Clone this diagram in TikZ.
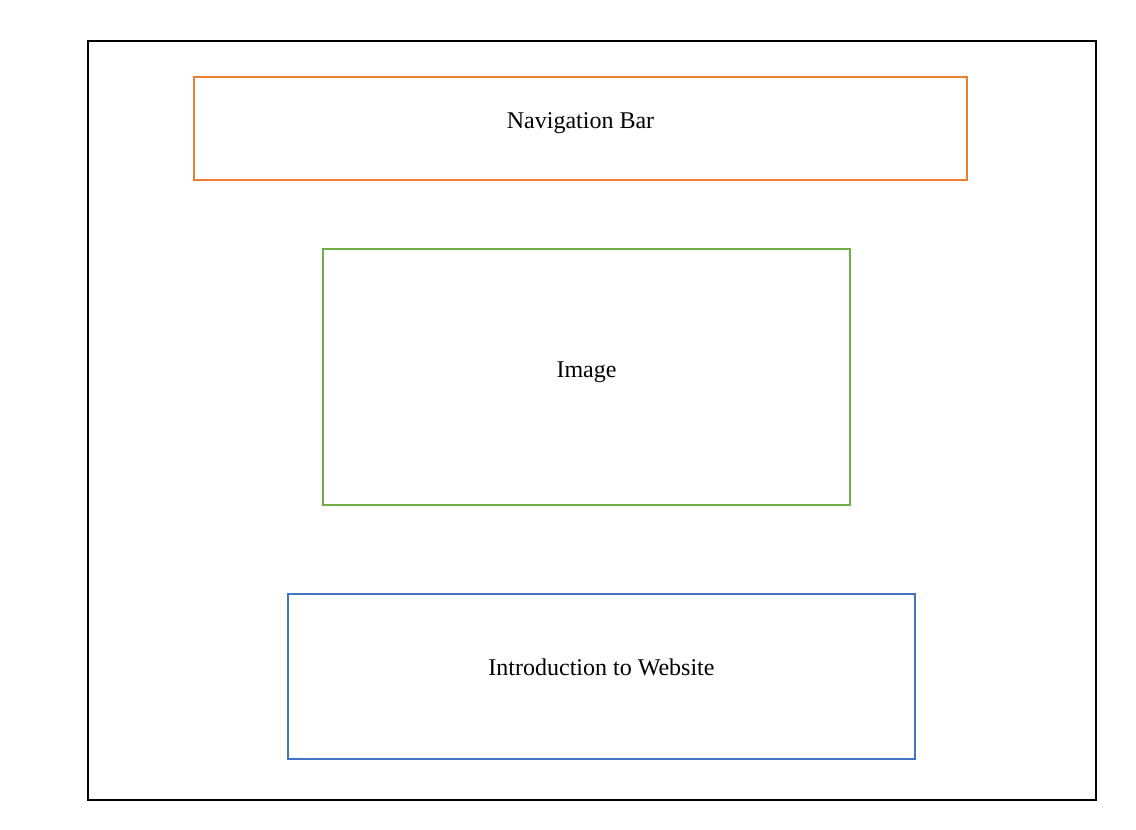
\documentclass[tikz,border=0pt]{standalone}
\usepackage{fontspec}
\setmainfont{Liberation Serif}
\usepackage{tikz}
\usetikzlibrary{positioning}
\definecolor{navorange}{HTML}{ED7D31}
\definecolor{imggreen}{HTML}{70AD47}
\definecolor{introblue}{HTML}{4472C4}
\tikzset{frame/.style={draw=black,line width=1pt,inner sep=0pt},panel/.style={line width=.75pt,inner sep=0pt},caption/.style={font=\fontsize{12}{14}\selectfont,text=black,inner sep=0pt}}

\begin{document}
\begin{tikzpicture}[x=0.5pt,y=-0.5pt]
\useasboundingbox (0,0) rectangle (1136,830);
\node[frame,minimum width=504pt,minimum height=379.5pt] (page) at (592,420.5) {};
\node[panel,draw=navorange,minimum width=386.5pt,minimum height=51.5pt] (nav) at (580.5,128.5) {};
\node[panel,draw=imggreen,minimum width=263.5pt,minimum height=128pt] (img) at (586.5,377) {};
\node[panel,draw=introblue,minimum width=313.5pt,minimum height=82.5pt] (intro) at (601.5,676.5) {};
\node[caption] (navtext) at ([yshift=2.5pt]nav.center) {Navigation Bar};
\node[caption] (imgtext) at ([yshift=2.5pt]img.center) {Image};
\node[caption] (introtext) at ([yshift=4.5pt]intro.center) {Introduction to Website};
\end{tikzpicture}
\end{document}
